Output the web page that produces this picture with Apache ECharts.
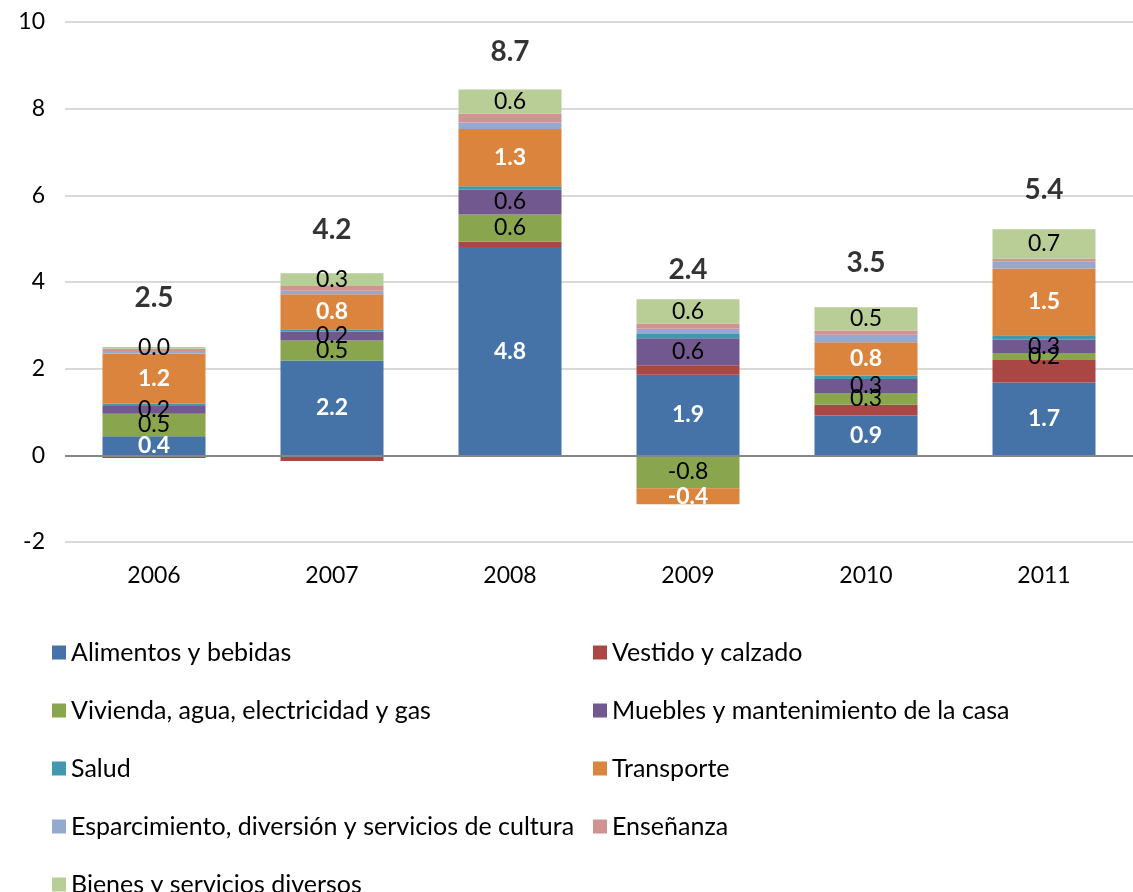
<!DOCTYPE html>
<html>
<head>
<meta charset="utf-8">
<title>Contribución por rubro</title>
<script src="https://cdn.jsdelivr.net/npm/echarts@6/dist/echarts.min.js"></script>
<style>
    html, body { margin: 0; padding: 0; background: #fff; }
    #chart { width: 1133px; height: 892px; }
</style>
</head>
<body>
<div id="chart"></div>
<script>
// Data (segment heights per year)
const years = ['2006', '2007', '2008', '2009', '2010', '2011'];
const alimentos = [0.44, 2.19, 4.81, 1.86, 0.92, 1.68];
const vestido = [-0.06, -0.13, 0.12, 0.22, 0.25, 0.52];
const vivienda = [0.52, 0.46, 0.63, -0.76, 0.27, 0.16];
const muebles = [0.18, 0.21, 0.57, 0.62, 0.32, 0.31];
const salud = [0.05, 0.05, 0.08, 0.10, 0.08, 0.10];
const transporte = [1.16, 0.81, 1.32, -0.37, 0.77, 1.54];
const esparcimiento = [0.06, 0.08, 0.15, 0.12, 0.17, 0.16];
const ensenanza = [0.05, 0.11, 0.20, 0.12, 0.10, 0.07];
const bienes = [0.04, 0.29, 0.56, 0.56, 0.54, 0.68];
const totals = [2.5, 4.2, 8.7, 2.4, 3.5, 5.4];

// y axis ticks
const yMin = -2, yMax = 10, yStep = 2;

// how far the total labels sit above their value (px)
const totalLift = [49, 43, 26, 81, 41, 31];

const FONT = 'Lato';
const FS = 23;

const whiteLabel = { show: true, position: 'inside', color: '#fff', fontWeight: 'bold', fontFamily: FONT, fontSize: FS, formatter: p => p.value.toFixed(1) };
const blackLabel = { show: true, position: 'inside', color: '#000', fontFamily: FONT, fontSize: FS, formatter: p => p.value.toFixed(1) };

const seriesDefs = [
    { name: 'Alimentos y bebidas', data: alimentos, color: '#4572A7', label: whiteLabel },
    { name: 'Vestido y calzado', data: vestido, color: '#AA4643' },
    { name: 'Vivienda, agua, electricidad y gas', data: vivienda, color: '#89A54E', label: blackLabel },
    { name: 'Muebles y mantenimiento de la casa', data: muebles, color: '#71588F', label: blackLabel },
    { name: 'Salud', data: salud, color: '#4198AF' },
    { name: 'Transporte', data: transporte, color: '#DB843D', label: whiteLabel },
    { name: 'Esparcimiento, diversión y servicios de cultura', data: esparcimiento, color: '#93A9CF' },
    { name: 'Enseñanza', data: ensenanza, color: '#D19392' },
    { name: 'Bienes y servicios diversos', data: bienes, color: '#B9CD96', label: blackLabel }
];

const series = seriesDefs.map((s, i) => ({
    name: s.name,
    type: 'bar',
    stack: 'total',
    barWidth: 103,
    data: s.data,
    itemStyle: { color: s.color },
    label: s.label || { show: false },
    markLine: i === 0 ? {
        silent: true,
        symbol: 'none',
        label: { show: false },
        lineStyle: { color: '#868686', width: 2, type: 'solid' },
        data: [{ yAxis: 0 }]
    } : undefined
}));

// Totals drawn as bold text above each bar
series.push({
    name: 'Total',
    type: 'scatter',
    symbolSize: 1,
    itemStyle: { color: 'rgba(0,0,0,0)' },
    z: 10,
    data: totals.map((v, i) => ({
        value: v,
        label: { offset: [0, -totalLift[i]] }
    })),
    label: {
        show: true,
        position: 'inside',
        color: '#000',
        fontWeight: 'bold',
        fontFamily: FONT,
        fontSize: 28,
        formatter: p => p.value.toFixed(1)
    }
});

// legend: two columns, one component per entry so nothing wraps
const legends = seriesDefs.map((s, i) => ({
    data: [s.name],
    left: i % 2 === 0 ? 52 : 593,
    top: 640 + Math.floor(i / 2) * 58,
    padding: 0,
    itemWidth: 14,
    itemHeight: 14,
    icon: 'rect',
    selectedMode: false,
    textStyle: { color: '#000', fontFamily: FONT, fontSize: 25, lineHeight: 24, padding: [0, 0, 0, 0] }
}));

const chart = echarts.init(document.getElementById('chart'));
chart.setOption({
    animation: false,
    textStyle: { fontFamily: FONT },
    grid: { left: 65, right: -12, top: 22, bottom: 350, containLabel: false },
    legend: legends,
    xAxis: {
        type: 'category',
        data: years,
        axisLine: { show: false, onZero: false },
        axisTick: { show: false },
        axisLabel: { color: '#000', fontFamily: FONT, fontSize: FS, margin: 22 }
    },
    yAxis: {
        type: 'value',
        min: yMin,
        max: yMax,
        interval: yStep,
        axisLine: { show: false },
        axisTick: { show: false },
        axisLabel: { color: '#000', fontFamily: FONT, fontSize: FS, margin: 20 },
        splitLine: { lineStyle: { color: '#d9d9d9', width: 2 } }
    },
    series: series
});
</script>
</body>
</html>
